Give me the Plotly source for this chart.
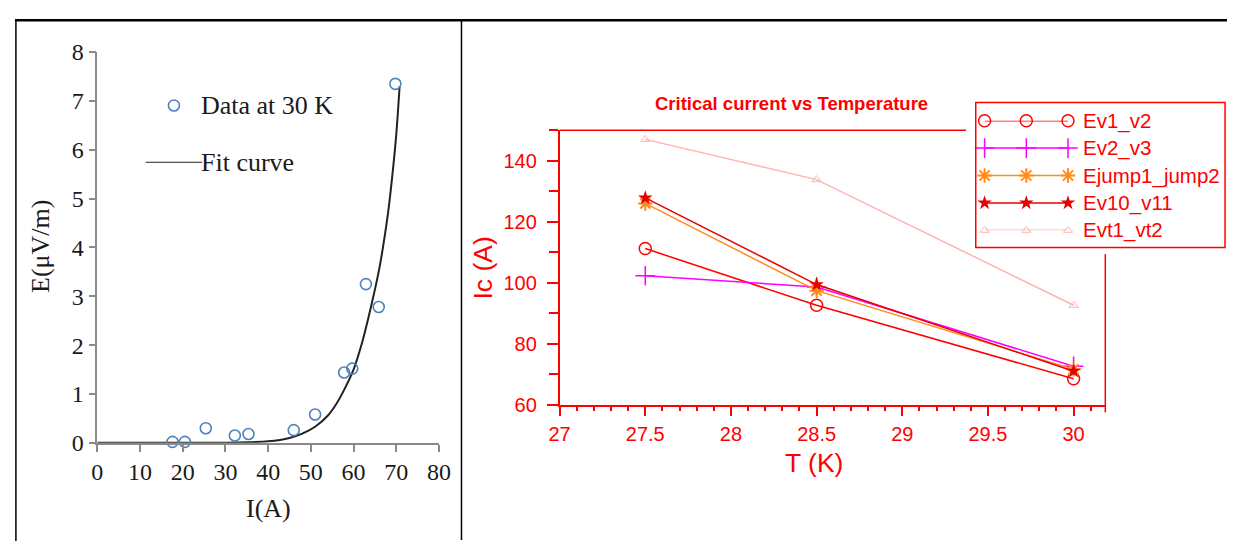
import plotly.graph_objects as go

W, H = 1239, 554

# ---- left panel: E-I characteristic at 30 K ----
I_DATA = [17.6, 20.5, 25.4, 32.2, 35.4, 46.0, 51.0, 57.8, 59.7, 62.9, 65.9, 69.8]
E_DATA = [0.02, 0.02, 0.30, 0.15, 0.18, 0.26, 0.58, 1.44, 1.52, 3.25, 2.78, 7.35]

I_FIT = [0, 10, 20, 30, 35, 40, 45, 48, 51, 54, 56, 58, 60, 62, 64, 66, 68, 69, 70, 70.8]
E_FIT = [0, 0, 0, 0.003, 0.01, 0.03, 0.10, 0.19, 0.33, 0.56, 0.80, 1.12, 1.50, 2.05, 2.75, 3.55,
         4.65, 5.40, 6.30, 7.30]

LEFT_X_TICKS = [0, 10, 20, 30, 40, 50, 60, 70, 80]
LEFT_Y_TICKS = [0, 1, 2, 3, 4, 5, 6, 7, 8]

# ---- right panel: critical current vs temperature ----
T_K = [27.5, 28.5, 30.0]
IC_EV1_V2 = [111.2, 92.6, 68.5]
IC_EV2_V3 = [102.3, 98.6, 72.6]
IC_EJUMP1_JUMP2 = [126.0, 97.4, 71.6]
IC_EV10_V11 = [127.8, 99.4, 71.0]
IC_EVT1_VT2 = [147.0, 133.8, 92.6]

SERIES_NAMES = ["Ev1_v2", "Ev2_v3", "Ejump1_jump2", "Ev10_v11", "Evt1_vt2"]
SERIES_VALUES = [IC_EV1_V2, IC_EV2_V3, IC_EJUMP1_JUMP2, IC_EV10_V11, IC_EVT1_VT2]

RED = "#ff0000"
STYLES = [
    dict(color="#ff0000", symbol="circle-open", size=12, mlw=1.5),
    dict(color="#ff00ff", symbol="cross-thin-open", size=14, mlw=1.5),
    dict(color="#ff8c1a", symbol="asterisk-open", size=12, mlw=2),
    dict(color="#e60000", symbol="star", size=11, mlw=0),
    dict(color="#ffb3b3", symbol="triangle-up-open", size=8, mlw=1),
]

GREY = "#8a8a8a"
INK = "#1a1a1a"
SERIF = "Liberation Serif"
SANS = "Liberation Sans"


def px(x):
    return x / W


def py(y):
    return 1 - y / H


fig = go.Figure()

# left panel traces
fig.add_trace(go.Scatter(
    x=I_FIT, y=E_FIT, mode="lines", name="Fit curve",
    line=dict(color="#222222", width=2, shape="spline", smoothing=0.8),
    xaxis="x", yaxis="y", showlegend=False, cliponaxis=False,
))
fig.add_trace(go.Scatter(
    x=I_DATA, y=E_DATA, mode="markers", name="Data at 30 K",
    marker=dict(symbol="circle-open", size=11, color="#4f81bd", line=dict(width=1.6)),
    xaxis="x", yaxis="y", showlegend=False, cliponaxis=False,
))

# right panel traces
for name, vals, st in zip(SERIES_NAMES, SERIES_VALUES, STYLES):
    fig.add_trace(go.Scatter(
        x=T_K, y=vals, mode="lines+markers", name=name,
        line=dict(color=st["color"], width=1.5),
        marker=dict(symbol=st["symbol"], size=st["size"], color=st["color"],
                    line=dict(color=st["color"], width=st["mlw"])),
        xaxis="x2", yaxis="y2", showlegend=False, cliponaxis=False,
    ))

# legend samples for the right panel: three symbols per row
LEG_X = [0, 1, 2]
for i, (name, st) in enumerate(zip(SERIES_NAMES, STYLES)):
    fig.add_trace(go.Scatter(
        x=LEG_X, y=[i] * 3, mode="lines+markers", name=name,
        line=dict(color=st["color"], width=1.5),
        marker=dict(symbol=st["symbol"], size=st["size"], color=st["color"],
                    line=dict(color=st["color"], width=st["mlw"])),
        xaxis="x3", yaxis="y3", showlegend=False, cliponaxis=False, hoverinfo="skip",
    ))

# legend samples for the left panel
fig.add_trace(go.Scatter(
    x=[0.5], y=[0], mode="markers",
    marker=dict(symbol="circle-open", size=11, color="#4f81bd", line=dict(width=1.6)),
    xaxis="x4", yaxis="y4", showlegend=False, cliponaxis=False, hoverinfo="skip",
))
fig.add_trace(go.Scatter(
    x=[0, 1], y=[1, 1], mode="lines",
    line=dict(color="#222222", width=2),
    xaxis="x4", yaxis="y4", showlegend=False, cliponaxis=False, hoverinfo="skip",
))

left_axis_common = dict(
    showline=True, linecolor=GREY, linewidth=1.5,
    ticks="outside", ticklen=7, tickwidth=1.5, tickcolor=GREY,
    showgrid=False, zeroline=False,
    tickfont=dict(family=SERIF, size=24, color=INK),
)
right_axis_common = dict(
    showline=True, linecolor=RED, linewidth=1.5,
    ticks="outside", tickwidth=1.5, tickcolor=RED,
    showgrid=False, zeroline=False,
    tickfont=dict(family=SANS, size=20, color=RED),
)
hidden = dict(visible=False, fixedrange=True)

shapes = [
    # page frame lines
    dict(type="line", xref="paper", yref="paper", x0=px(4), x1=1, y0=py(7.5), y1=py(7.5),
         line=dict(color="black", width=2.5)),
    dict(type="line", xref="paper", yref="paper", x0=px(5), x1=px(5), y0=py(7), y1=0,
         line=dict(color="black", width=1.5)),
    dict(type="line", xref="paper", yref="paper", x0=px(459), x1=px(459), y0=py(7), y1=py(553),
         line=dict(color="black", width=1.5)),
    # right plot frame (top and right sides)
    dict(type="line", xref="paper", yref="paper", x0=px(559), x1=px(973), y0=py(123), y1=py(123),
         line=dict(color=RED, width=1.5)),
    dict(type="line", xref="paper", yref="paper", x0=px(1115), x1=px(1115), y0=py(253), y1=py(419),
         line=dict(color=RED, width=1.5)),
    # legend box
    dict(type="rect", xref="paper", yref="paper", x0=px(983), x1=px(1237), y0=py(246), y1=py(94),
         line=dict(color=RED, width=1.5), fillcolor="rgba(0,0,0,0)"),
]


def label(text, x, y, font, xanchor="center", angle=0):
    return dict(text=text, x=px(x), y=py(y), xref="paper", yref="paper", xanchor=xanchor,
                yanchor="middle", showarrow=False, textangle=angle, font=font)


legend_rows_y = [113, 142, 171, 199, 228]
legend_font = dict(family=SANS, size=20.5, color=RED)
annotations = [label(name, 1090, yy, legend_font, xanchor="left")
               for name, yy in zip(SERIES_NAMES, legend_rows_y)]
annotations += [
    label("Critical current vs Temperature", 795, 95,
          dict(family=SANS, size=18.5, color=RED, weight="bold")),
    label("T (K)", 818, 472, dict(family=SANS, size=26.5, color=RED)),
    label("Ic (A)", 481, 268, dict(family=SANS, size=26.5, color=RED), angle=-90),
    label("Data at 30 K", 192, 97, dict(family=SERIF, size=26, color=INK), xanchor="left"),
    label("Fit curve", 192, 157, dict(family=SERIF, size=26, color=INK), xanchor="left"),
    label("I(A)", 262, 520, dict(family=SERIF, size=26, color=INK)),
    label("E(μV/m)", 30, 245, dict(family=SERIF, size=26, color=INK), angle=-90),
]

fig.update_layout(
    width=W, height=H,
    margin=dict(l=0, r=0, t=0, b=0),
    paper_bgcolor="white", plot_bgcolor="rgba(0,0,0,0)",
    showlegend=False,
    xaxis=dict(domain=[px(88), px(436)], anchor="y", range=[0, 80],
               tickvals=LEFT_X_TICKS, **left_axis_common),
    yaxis=dict(domain=[py(451), py(41)], anchor="x", range=[0, 8],
               tickvals=LEFT_Y_TICKS, **left_axis_common),
    xaxis2=dict(domain=[px(559), px(1115)], anchor="y2", range=[27, 30.185],
                tick0=27, dtick=0.5, ticklen=10, ticklabelstandoff=1,
                minor=dict(dtick=0.1, ticklen=5, tickwidth=1.5, tickcolor=RED, ticks="outside"),
                **right_axis_common),
    yaxis2=dict(domain=[py(411), py(123)], anchor="x2", range=[60, 150],
                tick0=60, dtick=20, ticklen=11, ticklabelstandoff=6,
                minor=dict(dtick=10, ticklen=9, tickwidth=1.5, tickcolor=RED, ticks="outside"),
                **right_axis_common),
    xaxis3=dict(domain=[px(992), px(1077)], anchor="y3", range=[0, 2], **hidden),
    yaxis3=dict(domain=[py(228), py(113)], anchor="x3", range=[4, 0], **hidden),
    xaxis4=dict(domain=[px(137), px(195)], anchor="y4", range=[0, 1], **hidden),
    yaxis4=dict(domain=[py(157), py(97)], anchor="x4", range=[1, 0], **hidden),
    shapes=shapes,
    annotations=annotations,
)

fig.write_html("out.html")
